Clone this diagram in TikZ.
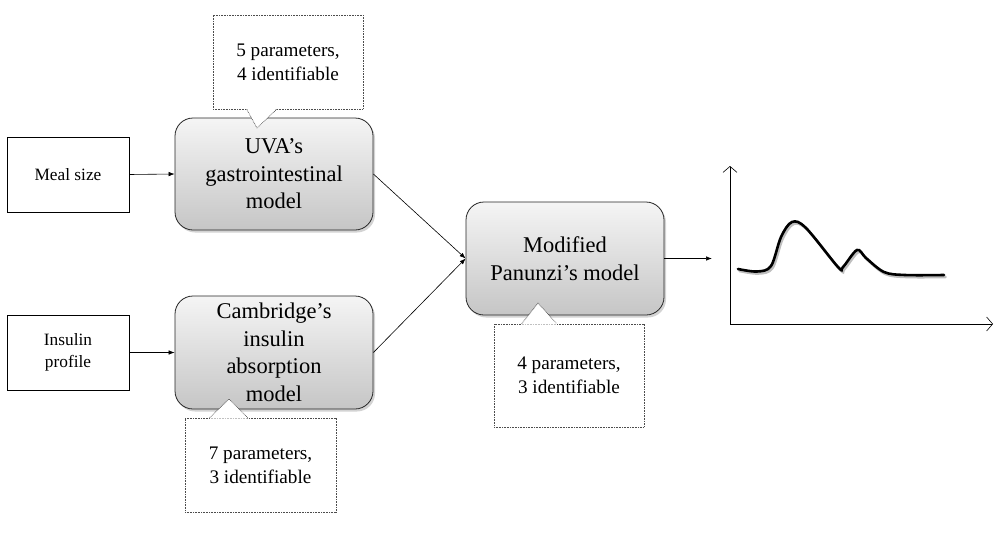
\documentclass[tikz,border=0pt]{standalone}
\usepackage{fontspec}
\setmainfont{Liberation Serif}
\usetikzlibrary{arrows.meta,shadows,calc}
\begin{document}
\begin{tikzpicture}[x=1pt,y=-1pt,
 inbox/.style={draw, line width=0.6pt, fill=white, minimum width=122pt, minimum height=75pt, align=center, font=\fontsize{17.3}{22}\selectfont, inner sep=0pt},
 model/.style={draw=black!85, line width=0.8pt, rounded corners=18pt, top color=gray!8, bottom color=gray!45, minimum width=198pt, minimum height=112pt, align=center, font=\fontsize{22.5}{27.5}\selectfont, drop shadow={shadow xshift=2pt, shadow yshift=-2.5pt, opacity=0.35}, inner sep=0pt},
 note/.style={draw=black!70, dash pattern=on 0.8pt off 0.8pt, line width=0.6pt, fill=white, minimum width=150pt, minimum height=94pt, align=center, font=\fontsize{19.2}{24}\selectfont, inner sep=0pt},
 noteline/.style={draw=black!70, dash pattern=on 0.8pt off 0.8pt, line width=0.6pt},
 arr/.style={-{Latex[length=6pt,width=4.5pt]}, line width=0.6pt},
 axis/.style={-{Straight Barb[length=6pt,width=14pt]}, line width=0.6pt}
]
\useasboundingbox (0,0) rectangle (999,533);

% input boxes
\node[inbox] (meal) at (68,174.5) {Meal size};
\node[inbox] (ins) at (68,352.5) {Insulin\\profile};

% model boxes
\node[model] (uva) at (274,174) {UVA’s\\gastrointestinal\\model};
\node[model, minimum height=113pt] (cam) at (274,352.5) {Cambridge’s\\insulin\\absorption\\model};
\node[model, minimum height=113pt] (pan) at (565,258.5) {Modified\\Panunzi’s model};

% connectors
\draw[arr] (meal.east) -- (uva.west);
\draw[arr] (ins.east) -- (cam.west);
\draw[arr] (uva.east) -- (pan.west);
\draw[arr] (cam.east) -- (pan.west);
\coordinate (out) at (712,258.5);
\draw[arr] (pan.east) -- (out);

% callout 1
\node[note] (n1) at (288,62) {5 parameters,\\4 identifiable};
\coordinate (t1) at (257,128);
\fill[white] ($(n1.south west)+(34,-1)$) -- (t1) -- ($(n1.south west)+(64,-1)$) -- cycle;
\draw[noteline] ($(n1.south west)+(34,0)$) -- (t1) -- ($(n1.south west)+(64,0)$);

% callout 2
\node[note, minimum width=151pt] (n2) at (260.5,465) {7 parameters,\\3 identifiable};
\coordinate (t2) at (229,399);
\fill[white] ($(n2.north west)+(25,1)$) -- (t2) -- ($(n2.north west)+(63,1)$) -- cycle;
\draw[noteline] ($(n2.north west)+(25,0)$) -- (t2) -- ($(n2.north west)+(63,0)$);

% callout 3
\node[note, minimum height=103pt] (n3) at (569,375.5) {4 parameters,\\3 identifiable};
\coordinate (t3) at (538,303);
\fill[white] ($(n3.north west)+(28,1)$) -- (t3) -- ($(n3.north west)+(63,1)$) -- cycle;
\draw[noteline] ($(n3.north west)+(28,0)$) -- (t3) -- ($(n3.north west)+(63,0)$);

% graph
\coordinate (o) at (730,324);
\coordinate (ytop) at (730,166);
\coordinate (xend) at (993,324);
\draw[axis] (o) -- (ytop);
\draw[axis] (o) -- (xend);
\draw[line width=2.6pt, line cap=round, black!25, shift={(1.5,2)}] plot[smooth, tension=0.55] coordinates {(738,269) (757,271.5) (771,266) (781,237) (792,222) (806,228) (838,267) (843,267) (857,250) (866,258) (884,272) (905,275) (944,275)};
\draw[line width=2.6pt, line cap=round] plot[smooth, tension=0.55] coordinates {(738,269) (757,271.5) (771,266) (781,237) (792,222) (806,228) (838,267) (843,267) (857,250) (866,258) (884,272) (905,275) (944,275)};
\end{tikzpicture}
\end{document}
